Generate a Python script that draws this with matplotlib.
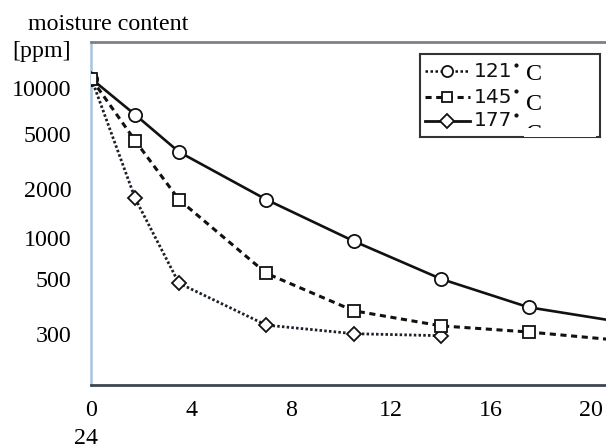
import matplotlib
matplotlib.use("Agg")
import matplotlib.pyplot as plt
from matplotlib.patches import Rectangle

# drying time vs moisture content (log scale)
hours = [0, 1.75, 3.5, 7, 10.5, 14, 17.5, 21]
moist_121 = [11480, 6610, 3730, 1790, 944, 527, 341, 275]
moist_145 = [11480, 4430, 1790, 575, 323, 256, 233, 206]
hours_177 = [0, 1.75, 3.5, 7, 10.5, 14]
moist_177 = [11480, 1820, 494, 259, 227, 220]

xticks = [0, 4, 8, 12, 16, 20]
ytick_labels = ['10000', '5000', '2000', '1000', '500', '300']
ytick_pos = [10000, 4940, 2120, 985, 525, 225]   # where the labels sit in the picture
legend_temps = ['121', '145', '177']

serif = 'Liberation Serif'
fs = 17.3
W, H = 606, 447

fig = plt.figure(figsize=(W / 100, H / 100), dpi=100)
ax = fig.add_axes([91 / W, 1 - 385 / H, 1 - 91 / W + 0.02, (385 - 42) / H])

ax.plot(hours, moist_121, color='#111111', lw=1.9, marker='o', ms=9.5,
        mfc='white', mec='#111111', mew=1.3, zorder=3)
ax.plot(hours_177, moist_177, color='#1a2129', lw=2.0, ls=(0, (0.9, 0.8)),
        marker='D', ms=7.5, mfc='white', mec='#111111', mew=1.3, zorder=4)
ax.plot(hours, moist_145, color='#111111', lw=2.2, ls=(0, (2, 1.5)),
        marker='s', ms=8.5, mfc='white', mec='#111111', mew=1.3, zorder=5)

ax.set_yscale('log')
ax.set_ylim(103, 20260)
ax.set_xlim(-0.02, 20.6 + 0.02 * W / 25)
ax.set_xticks(xticks)
ax.set_xticklabels([str(t) for t in xticks], fontfamily=serif, fontsize=fs)
ax.set_yticks(ytick_pos)
ax.set_yticklabels(ytick_labels, fontfamily=serif, fontsize=fs)
ax.yaxis.set_minor_locator(plt.NullLocator())
ax.tick_params(axis='x', length=0, pad=10.5)
ax.tick_params(axis='y', length=0, pad=14)

ax.spines['right'].set_visible(False)
ax.spines['left'].set_color('#a9c4de')
ax.spines['left'].set_linewidth(1.8)
ax.spines['top'].set_color('#7c8189')
ax.spines['top'].set_linewidth(2)
ax.spines['bottom'].set_color('#3d4650')
ax.spines['bottom'].set_linewidth(2)

fig.text(28 / W, 1 - 24 / H, 'moisture content', fontfamily=serif, fontsize=fs,
         ha='left', va='center')
fig.text(71 / W, 1 - 52 / H, '[ppm]', fontfamily=serif, fontsize=fs,
         ha='right', va='center')
fig.text(86 / W, 1 - 438 / H, '24', fontfamily=serif, fontsize=fs,
         ha='center', va='center')

# hand-made legend box
lx0, ly0, lx1, ly1 = 419.7, 53.7, 600, 137.3
lg = fig.add_axes([lx0 / W, 1 - ly1 / H, (lx1 - lx0) / W, (ly1 - ly0) / H])
lg.set_xlim(0, lx1 - lx0)
lg.set_ylim(ly1 - ly0, 0)
lg.set_xticks([])
lg.set_yticks([])
for s in lg.spines.values():
    s.set_color('#333333')
    s.set_linewidth(1.5)

rows = [17.6, 43.6, 67]
c_rows = [21, 51, 81]
styles = [dict(ls=(0, (1, 1)), lw=1.8, marker='o', ms=8),
          dict(ls=(0, (2, 1.5)), lw=2.2, marker='s', ms=7),
          dict(ls='-', lw=2.0, marker='D', ms=7.5)]
for yr, yc, st, t in zip(rows, c_rows, styles, legend_temps):
    lg.plot([5.3, 50.3], [yr, yr], color='#111111', lw=st['lw'], ls=st['ls'])
    lg.plot([27.6], [yr], marker=st['marker'], ms=st['ms'], mfc='white',
            mec='#111111', mew=1.3, color='#111111')
    lg.text(54.5, yr, t, fontfamily='DejaVu Sans', fontsize=14.5, ha='left',
            va='center', color='#111111')
    # the degree sign is just a small dot in the original
    lg.plot([96], [yr - 6], marker='o', ms=3, color='#111111', mew=0)
    lg.text(106.5, yc, 'C', fontfamily=serif, fontsize=fs, ha='left',
            va='center', color='black', clip_on=True)
# bottom row label is cut off in the original
lg.add_patch(Rectangle((104, 74.3), 72, 8.5, facecolor='white', edgecolor='none',
                       zorder=10))

fig.savefig('out.png', dpi=100)
